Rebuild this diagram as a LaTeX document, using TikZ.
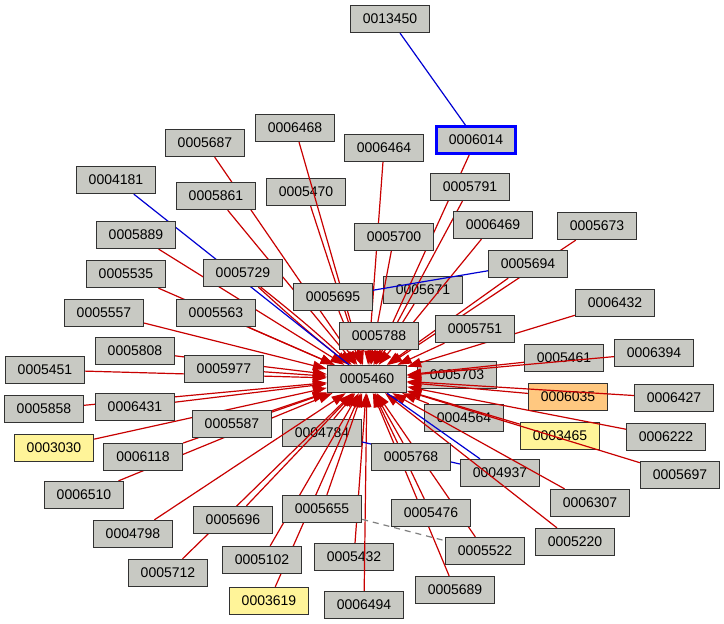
\documentclass[tikz,border=0pt]{standalone}
\usepackage{fontspec}
\setmainfont{Liberation Sans}
\usetikzlibrary{arrows.meta}
\pgfdeclarelayer{low}
\pgfdeclarelayer{edges}
\pgfsetlayers{low,edges,main}
\definecolor{nodegray}{RGB}{200,201,195}
\definecolor{bordergray}{RGB}{50,50,50}
\definecolor{edgered}{RGB}{200,0,0}
\definecolor{edgeblue}{RGB}{0,0,210}
\definecolor{hlyellow}{RGB}{255,244,153}
\definecolor{hlorange}{RGB}{255,200,128}
\definecolor{dashgray}{RGB}{128,128,128}
\begin{document}
\begin{tikzpicture}[x=1pt,y=-1pt,
 box/.style={draw=bordergray, fill=nodegray, line width=1.3pt, minimum width=79pt, minimum height=27pt, inner sep=0pt, font=\fontsize{14}{16}\selectfont},
 yel/.style={box, fill=hlyellow},
 org/.style={box, fill=hlorange},
 focus/.style={box, draw=blue, line width=2.6pt},
 rel/.style={draw=edgered, line width=1.2pt, -{Triangle[length=14pt,width=9.5pt]}},
 blu/.style={draw=edgeblue, line width=1.2pt},
 dsh/.style={draw=dashgray, line width=1.2pt, dash pattern=on 6pt off 5pt}]
\useasboundingbox (0,0) rectangle (724,624);

% nodes drawn below the edges
\begin{pgfonlayer}{low}
\fill[white] (0,0) rectangle (724,624);
\node[box] (n5470) at (306,192) {0005470};
\node[box] (n5671) at (423,290) {0005671};
\node[box] (n5703) at (457,375) {0005703};
\node[box] (n4564) at (464,418) {0004564};
\node[box] (n5461) at (564,358) {0005461};
\node[org] (n6035) at (568,397) {0006035};
\node[yel] (n3465) at (560,436) {0003465};
\node[box] (n4784) at (322,433) {0004784};
\node[box] (n5432) at (354,557) {0005432};
\node[box] (n4937) at (500,473) {0004937};
\end{pgfonlayer}

% nodes drawn above the edges
\node[box] (hub) at (367,379) {0005460};
\node[box] (n13450) at (390,19) {0013450};
\node[focus] (n6014) at (476,140) {0006014};
\node[box] (n5687) at (205,143) {0005687};
\node[box] (n6468) at (295,128) {0006468};
\node[box] (n6464) at (384,148) {0006464};
\node[box] (n4181) at (116,180) {0004181};
\node[box] (n5861) at (216,196) {0005861};
\node[box] (n5791) at (470,187) {0005791};
\node[box] (n6469) at (493,225) {0006469};
\node[box] (n5673) at (597,226) {0005673};
\node[box] (n5889) at (136,235) {0005889};
\node[box] (n5700) at (394,237) {0005700};
\node[box] (n5729) at (243,273) {0005729};
\node[box] (n5694) at (528,264) {0005694};
\node[box] (n5535) at (126,274) {0005535};
\node[box] (n5695) at (333,297) {0005695};
\node[box] (n6432) at (615,303) {0006432};
\node[box] (n5557) at (104,313) {0005557};
\node[box] (n5563) at (216,313) {0005563};
\node[box] (n5751) at (475,329) {0005751};
\node[box] (n5788) at (379,336) {0005788};
\node[box] (n5808) at (135,351) {0005808};
\node[box] (n6394) at (654,353) {0006394};
\node[box] (n5451) at (45,370) {0005451};
\node[box] (n5977) at (224,369) {0005977};
\node[box] (n6427) at (674,398) {0006427};
\node[box] (n5858) at (44,409) {0005858};
\node[box] (n6431) at (135,407) {0006431};
\node[box] (n5587) at (232,424) {0005587};
\node[box] (n6222) at (666,437) {0006222};
\node[yel] (n3030) at (54,448) {0003030};
\node[box] (n6118) at (143,457) {0006118};
\node[box] (n5768) at (411,457) {0005768};
\node[box] (n5697) at (680,475) {0005697};
\node[box] (n6510) at (84,495) {0006510};
\node[box] (n6307) at (590,503) {0006307};
\node[box] (n5655) at (322,509) {0005655};
\node[box] (n5696) at (233,520) {0005696};
\node[box] (n5476) at (431,513) {0005476};
\node[box] (n4798) at (133,534) {0004798};
\node[box] (n5220) at (575,542) {0005220};
\node[box] (n5522) at (485,551) {0005522};
\node[box] (n5102) at (262,560) {0005102};
\node[box] (n5712) at (168,573) {0005712};
\node[yel] (n3619) at (269,601) {0003619};
\node[box] (n6494) at (364,605) {0006494};
\node[box] (n5689) at (455,590) {0005689};

\begin{pgfonlayer}{edges}
\foreach \n in {n6014,n5687,n6468,n6464,n5861,n5470,n5791,n6469,n5673,n5889,
  n5700,n5694,n5535,n5695,n5671,n6432,n5557,n5563,n5751,n5788,n5808,n5461,
  n6394,n5451,n5977,n5703,n6035,n6427,n5858,n6431,n5587,n4564,n6222,n3465,
  n3030,n4784,n6118,n5768,n5697,n6510,n6307,n5655,n5696,n5476,n4798,n5220,
  n5522,n5102,n5432,n5712,n3619,n6494,n5689}
  {\draw[rel] (\n) -- (hub);}
\draw[rel] (n5729) to[bend left=2] (hub);
\draw[rel] (n5729) to[bend right=2] (hub);
\draw[blu] (n13450) -- (n6014);
\draw[blu] (n4181) -- (hub);
\draw[blu] (n5695) -- (n5694);
\draw[blu] (hub) -- (n4937);
\draw[blu] (n4784) -- (n4937);
\draw[dsh] (n5655) -- (n5522);
\end{pgfonlayer}
\end{tikzpicture}
\end{document}
